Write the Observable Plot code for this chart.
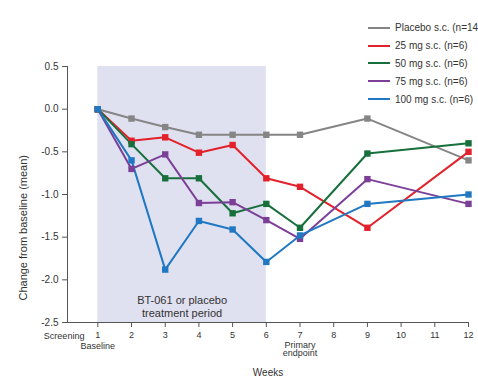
<!DOCTYPE html>
<html>
<head>
<meta charset="utf-8">
<script src="https://cdn.jsdelivr.net/npm/d3@7"></script>
<script src="https://cdn.jsdelivr.net/npm/@observablehq/plot@0.6"></script>
<style>
  html, body { margin: 0; padding: 0; background: #fff; overflow: hidden; }
  #wrap { position: relative; width: 478px; height: 380px; font-family: "Liberation Sans", Arial, sans-serif; }
  #legend { position: absolute; left: 368px; top: 19px; font-size: 10px; color: #333; white-space: nowrap; }
  #legend .row { height: 17.8px; display: flex; align-items: center; }
  #legend .sw { width: 22px; height: 2px; margin-right: 5px; }
</style>
</head>
<body>
<div id="wrap"></div>
<script>
const weeks = [1, 2, 3, 4, 5, 6, 7, 9, 12];
const seriesNames = ["Placebo s.c. (n=14)", "25 mg s.c. (n=6)", "50 mg s.c. (n=6)", "75 mg s.c. (n=6)", "100 mg s.c. (n=6)"];
const seriesColors = ["#858585", "#e3212b", "#17703b", "#7b3f98", "#1f78c1"];
const placebo = [0, -0.11, -0.21, -0.30, -0.30, -0.30, -0.30, -0.11, -0.60];
const mg25 = [0, -0.37, -0.33, -0.51, -0.42, -0.81, -0.91, -1.39, -0.50];
const mg50 = [0, -0.41, -0.81, -0.81, -1.22, -1.11, -1.39, -0.52, -0.40];
const mg75 = [0, -0.70, -0.53, -1.10, -1.09, -1.30, -1.52, -0.82, -1.11];
const mg100 = [0, -0.60, -1.88, -1.31, -1.41, -1.79, -1.48, -1.11, -1.00];
const seriesValues = [placebo, mg25, mg50, mg75, mg100];

const xTicks = [1, 2, 3, 4, 5, 6, 7, 8, 9, 10, 11, 12];
const yTicks = [0.5, 0, -0.5, -1, -1.5, -2, -2.5];
const treatmentPeriod = [1, 6];
const treatmentLabel = "BT-061 or placebo\ntreatment period";
const yTitle = "Change from baseline (mean)";
const xTitle = "Weeks";
const screeningLabel = [{x: 0, text: "Screening"}];
const baselineLabel = [{x: 1, text: "Baseline"}];
const endpointLabel = [{x: 7, text: "Primary\nendpoint"}];

const rows = [];
seriesNames.forEach((name, i) => {
  weeks.forEach((w, j) => rows.push({series: name, week: w, value: seriesValues[i][j]}));
});

const yMin = -2.5, yMax = 0.5;

const chart = Plot.plot({
  width: 478,
  height: 380,
  marginLeft: 67,
  marginRight: 10,
  marginTop: 66,
  marginBottom: 58,
  style: {fontFamily: "Liberation Sans, Arial, sans-serif", fontSize: "10px", color: "#333", background: "#fff"},
  x: {domain: [0.1, 12], axis: null},
  y: {domain: [yMin, yMax], axis: null},
  color: {domain: seriesNames, range: seriesColors},
  marks: [
    Plot.rect([treatmentPeriod], {x1: d => d[0], x2: d => d[1], y1: yMin, y2: yMax, fill: "#dfe0f0"}),
    Plot.text([treatmentLabel], {x: d3.mean(treatmentPeriod), y: -2.31, text: d => d, fontSize: 11, fill: "#333", lineHeight: 1.15}),
    Plot.ruleX([0.1], {y1: yMin, y2: yMax, stroke: "#555", strokeWidth: 1}),
    Plot.ruleY([yMin], {x1: 0.1, x2: 12, stroke: "#555", strokeWidth: 1}),
    Plot.axisY({ticks: yTicks, tickSize: 5, tickPadding: 4, fontSize: 10, tickFormat: d => d.toFixed(1), label: null, stroke: "#555"}),
    Plot.axisX({ticks: xTicks, tickSize: 5, tickPadding: 4, fontSize: 9, label: null, stroke: "#555"}),
    Plot.text([yTitle], {frameAnchor: "left", y: -1.39, text: d => d, rotate: -90, textAnchor: "middle", dx: -44, fontSize: 11, fill: "#333"}),
    Plot.text([xTitle], {frameAnchor: "bottom", text: d => d, dy: 53, fontSize: 10, fill: "#333"}),
    Plot.text(screeningLabel, {x: "x", y: yMin, text: "text", dy: 10, lineAnchor: "top", fontSize: 9, fill: "#333"}),
    Plot.text(baselineLabel, {x: "x", y: yMin, text: "text", dy: 20, lineAnchor: "top", fontSize: 9, fill: "#333"}),
    Plot.text(endpointLabel, {x: "x", y: yMin, text: "text", dy: 19, lineAnchor: "top", fontSize: 9, fill: "#333", lineHeight: 0.95}),
    Plot.line(rows, {x: "week", y: "value", z: "series", stroke: "series", strokeWidth: 2}),
    Plot.dot(rows, {x: "week", y: "value", fill: "series", symbol: "square", r: 3.6})
  ]
});

const wrap = document.getElementById("wrap");
wrap.appendChild(chart);

const legend = document.createElement("div");
legend.id = "legend";
seriesNames.forEach((name, i) => {
  const row = document.createElement("div");
  row.className = "row";
  const sw = document.createElement("span");
  sw.className = "sw";
  sw.style.background = seriesColors[i];
  const label = document.createElement("span");
  label.textContent = name;
  row.appendChild(sw);
  row.appendChild(label);
  legend.appendChild(row);
});
wrap.appendChild(legend);
</script>
</body>
</html>
